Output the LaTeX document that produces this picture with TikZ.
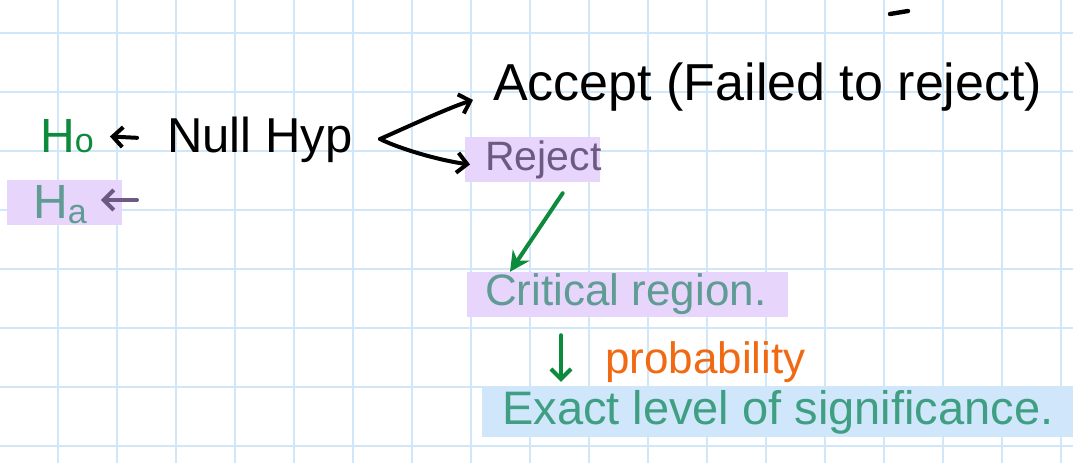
\documentclass[tikz,border=0pt]{standalone}
\usepackage{fontspec}
\setmainfont{Liberation Sans}
\usetikzlibrary{arrows.meta,calc}
\definecolor{gridblue}{HTML}{CFE7F8}
\definecolor{hgreen}{HTML}{0E8A3C}
\definecolor{tealtxt}{HTML}{5E9C94}
\definecolor{exacttxt}{HTML}{3E9F82}
\definecolor{purplehl}{HTML}{E8D5FB}
\definecolor{bluehl}{HTML}{D0E6FB}
\definecolor{rejtxt}{HTML}{6C5A82}
\definecolor{orangetxt}{HTML}{F06A14}
\newcommand{\fs}[1]{\fontsize{#1}{#1}\selectfont}
\tikzset{
  txt/.style={inner sep=0pt, text=black},
  hl/.style={inner ysep=0pt, anchor=west},
  pen/.style={line width=4pt, line cap=round, line join=round},
  barb/.style={pen, -{Straight Barb[length=10pt,width=20pt,line width=4pt]}},
}
\begin{document}
\begin{tikzpicture}[x=1pt,y=-1pt]
\useasboundingbox (0,0) rectangle (1073,463);
\fill[white] (0,0) rectangle (1073,463);
% grid
\foreach \i in {0,...,17} {\draw[gridblue, line width=1.6pt] ({58+59*\i},0) -- ({58+59*\i},463);}
\foreach \j in {0,...,7} {\draw[gridblue, line width=1.6pt] (0,{33+59*\j}) -- (1073,{33+59*\j});}
% highlights drawn directly
\fill[purplehl] (7,180) rectangle (122,225);
\fill[bluehl] (482,388) rectangle (1073,437);
% nodes
\node[txt, text=hgreen, anchor=base west] (h0) at (40,152) {\fs{48}H\fs{34}o};
\node[txt, anchor=base west] (null) at (167,152) {\fs{49}Null Hyp};
\node[txt, text=tealtxt, anchor=base west] (ha) at (33,218) {\fs{48}H\raisebox{-0.2ex}{\fs{34}a}};
\node[txt, anchor=base west] (accept) at (493,100) {\fs{52}Accept (Failed to reject)};
\node[hl, fill=purplehl, inner xsep=20pt, minimum height=45pt, text=rejtxt] (reject) at (465,159.5) {\makebox[95pt][l]{\fs{41}Reject}};
\node[hl, fill=purplehl, inner xsep=18pt, minimum height=45pt, text=tealtxt] (crit) at (467,294.5) {\makebox[285pt][l]{\fs{44}Critical region.}};
\node[txt, text=orangetxt, anchor=base west] (prob) at (605,373) {\fs{44}probability};
\node[hl, inner xsep=20pt, minimum height=49pt, text=exacttxt] (exact) at (482,412.5) {\fs{47}Exact level of significance.};
% connectors
\draw[barb, shorten <=30pt, shorten >=16pt] (null.west) -- (h0.east);
\coordinate (hatail) at (137,200);
\draw[barb, draw=rejtxt, shorten >=14pt] (hatail) -- (ha.east |- hatail);
\coordinate (fork) at (380,139);
\draw[barb] (fork) .. controls +(25,-11) and +(-25,8) .. ([xshift=-20pt]accept.base west);
\draw[barb] (fork) .. controls +(20,10) and +(-30,-4) .. ([xshift=5pt,yshift=-5pt]reject.west);
\draw[pen, draw=hgreen, -{Stealth[length=20pt,width=20pt]}] ([xshift=30pt,yshift=-11pt]reject.south) -- ([xshift=43pt]crit.north west);
\draw[barb, draw=hgreen] ([xshift=94pt,yshift=-18pt]crit.south west) -- ([xshift=79pt,yshift=6pt]exact.north west);
\coordinate (dashA) at (890,14);
\coordinate (dashB) at (908,11);
\draw[pen, line width=4.4pt] (dashA) -- (dashB);
\end{tikzpicture}
\end{document}
